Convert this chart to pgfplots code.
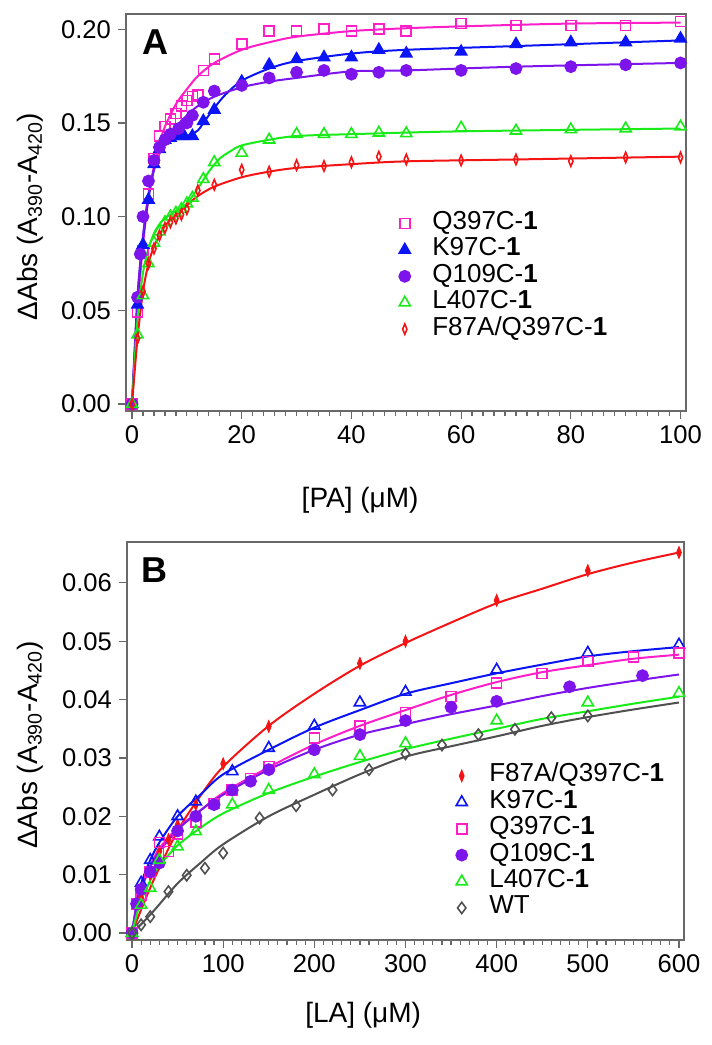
\documentclass[border=0pt]{standalone}
\usepackage{fontspec}
\setmainfont{Liberation Sans}
\usepackage{pgfplots}
\pgfplotsset{compat=1.18}
\definecolor{cMag}{RGB}{255,30,200}
\definecolor{cBlue}{RGB}{10,20,245}
\definecolor{cPur}{RGB}{125,20,235}
\definecolor{cGreen}{RGB}{25,235,25}
\definecolor{cRed}{RGB}{245,20,20}
\definecolor{cGray}{RGB}{80,80,80}
\definecolor{cAxis}{RGB}{105,105,105}
\pgfplotsset{
  myaxis/.style={
    scale only axis,
    axis line style={draw=cAxis, line width=0.6pt},
    tick align=outside, tick pos=left,
    major tick length=4pt, minor tick length=2.5pt,
    tick style={draw=cAxis, line width=0.6pt},
    minor tick style={draw=cAxis, line width=0.6pt},
    tick label style={font=\fontsize{12.8}{14}\selectfont},
    /pgf/number format/assume math mode=true,
    label style={font=\fontsize{14}{16}\selectfont},
    scaled y ticks=false,
    y tick label style={/pgf/number format/fixed, /pgf/number format/fixed zerofill, /pgf/number format/precision=2},
    ylabel={ΔAbs (A\textsubscript{390}-A\textsubscript{420})},
    legend cell align=left,
    legend style={draw=none, fill=none, inner sep=0pt, column sep=0pt, row sep=0.2pt,
      nodes={inner sep=0.5pt, text height=9pt, text depth=3pt, font=\fontsize{13}{14}\selectfont}},
  },
  fit/.style={line width=1pt, no marks, forget plot},
  pts/.style={only marks, mark options={line width=0.8pt},
    legend image code/.code={\path (0cm,0cm) (0.71cm,0cm); \draw[##1] plot coordinates {(0.25cm,0cm)};}},
}
\begin{document}
\begin{tikzpicture}
\useasboundingbox (0,0) rectangle (356pt,-522.5pt);
% ---------------- Panel A ----------------
\begin{axis}[myaxis,
  at={(63pt,-205.5pt)}, anchor=south west,
  width=280pt, height=198.5pt,
  xmin=-1.1, xmax=101, ymin=-0.0037, ymax=0.2081,
  xtick={0,20,40,60,80,100},
  minor xtick={2,4,...,18,22,24,...,38,42,44,...,58,62,64,...,78,82,84,...,98},
  ytick={0,0.05,0.1,0.15,0.2},
  xlabel={[PA] (μM)},
  xlabel style={at={(axis description cs:0.418,-0.224)}, anchor=center},
  ylabel style={at={(axis description cs:-0.171,0.49)}, anchor=center},
  legend style={at={(rel axis cs:0.471,0.506)}, anchor=north west},
]
% fits
\addplot[fit, cMag, smooth] coordinates {(0,0)(1,0.05)(2,0.085)(3,0.11)(4,0.127)(5,0.139)(6,0.148)(8,0.160)(10,0.168)(12,0.175)(15,0.182)(20,0.189)(25,0.193)(30,0.196)(40,0.199)(50,0.2005)(60,0.2015)(80,0.203)(100,0.2035)};
\addplot[fit, cBlue, smooth] coordinates {(0,0)(1,0.055)(2,0.088)(3,0.11)(4,0.125)(5,0.134)(6,0.139)(8,0.142)(10,0.143)(12,0.146)(13,0.150)(15,0.158)(17,0.165)(20,0.1725)(25,0.179)(30,0.183)(40,0.187)(50,0.189)(70,0.191)(100,0.194)};
\addplot[fit, cPur, smooth] coordinates {(0,0)(1,0.058)(2,0.09)(3,0.112)(4,0.125)(5,0.134)(6,0.14)(8,0.148)(10,0.154)(12,0.159)(15,0.164)(20,0.169)(25,0.172)(30,0.174)(40,0.1775)(50,0.178)(70,0.180)(100,0.182)};
\addplot[fit, cGreen, smooth] coordinates {(0,0)(1,0.045)(2,0.07)(3,0.083)(4,0.091)(5,0.096)(6,0.099)(8,0.103)(10,0.107)(12,0.115)(14,0.124)(16,0.131)(18,0.135)(20,0.138)(25,0.141)(30,0.143)(40,0.144)(60,0.1455)(100,0.147)};
\addplot[fit, cRed, smooth] coordinates {(0,0)(1,0.035)(2,0.06)(3,0.075)(4,0.084)(5,0.090)(6,0.095)(8,0.101)(10,0.106)(12,0.111)(15,0.116)(20,0.121)(25,0.124)(30,0.126)(40,0.128)(50,0.1295)(70,0.1305)(100,0.132)};
% data
\addplot[pts, mark=square, cMag, mark size=2.5pt] coordinates {(0,0)(1,0.049)(2,0.082)(3,0.112)(4,0.131)(5,0.143)(6,0.148)(7,0.152)(8,0.155)(9,0.159)(10,0.162)(11,0.164)(12,0.165)(13,0.178)(15,0.184)(20,0.192)(25,0.199)(30,0.199)(35,0.200)(40,0.199)(45,0.200)(50,0.199)(60,0.203)(70,0.202)(80,0.202)(90,0.202)(100,0.204)};
\addlegendentry{Q397C-\textbf{1}}
\addplot[pts, mark=triangle*, cBlue, mark size=3.2pt] coordinates {(0,0)(1,0.053)(2,0.085)(3,0.109)(4,0.128)(5,0.136)(6,0.141)(7,0.142)(8.5,0.143)(9.5,0.143)(11,0.143)(13,0.151)(15,0.157)(20,0.172)(25,0.181)(30,0.184)(35,0.185)(40,0.185)(45,0.189)(50,0.187)(60,0.188)(70,0.192)(80,0.193)(90,0.193)(100,0.195)};
\addlegendentry{K97C-\textbf{1}}
\addplot[pts, mark=*, cPur, mark size=2.8pt] coordinates {(0,0)(1,0.057)(1.5,0.080)(2,0.100)(3,0.119)(4,0.130)(5,0.137)(6,0.141)(7,0.144)(8.5,0.147)(10,0.150)(11,0.154)(13,0.161)(15,0.167)(20,0.170)(25,0.174)(30,0.177)(35,0.178)(40,0.176)(45,0.177)(50,0.178)(60,0.178)(70,0.179)(80,0.180)(90,0.181)(100,0.182)};
\addlegendentry{Q109C-\textbf{1}}
\addplot[pts, mark=triangle, cGreen, mark size=3.2pt] coordinates {(0,0)(1,0.037)(2,0.058)(3,0.075)(4,0.086)(5,0.092)(6,0.097)(7,0.100)(8,0.102)(9,0.104)(10,0.107)(11,0.110)(13,0.120)(15,0.129)(20,0.134)(25,0.141)(30,0.144)(35,0.144)(40,0.144)(45,0.1447)(50,0.1444)(60,0.1474)(70,0.1458)(80,0.1465)(90,0.147)(100,0.148)};
\addlegendentry{L407C-\textbf{1}}
\addplot[pts, mark=diamond, cRed, mark size=2.6pt, mark options={xscale=0.55, line width=0.8pt}] coordinates {(0,0)(1,0.035)(2,0.060)(3,0.075)(4,0.083)(5,0.090)(6,0.094)(7,0.097)(8,0.099)(9,0.101)(10,0.104)(12,0.114)(15,0.117)(20,0.125)(25,0.124)(30,0.1275)(35,0.127)(40,0.129)(45,0.132)(50,0.1305)(60,0.130)(70,0.1305)(80,0.1296)(90,0.1316)(100,0.1316)};
\addlegendentry{F87A/Q397C-\textbf{1}}
\node[font=\bfseries\fontsize{18}{20}\selectfont] at (rel axis cs:0.052,0.929) {A};
\end{axis}
% ---------------- Panel B ----------------
\begin{axis}[myaxis,
  at={(63.5pt,-470pt)}, anchor=south west,
  width=278.5pt, height=199pt,
  xmin=-5.5, xmax=605.5, ymin=-0.0012, ymax=0.067,
  xtick={0,100,200,300,400,500,600},
  minor xtick={10,20,...,90,110,120,...,190,210,220,...,290,310,320,...,390,410,420,...,490,510,520,...,590},
  ytick={0,0.01,0.02,0.03,0.04,0.05,0.06},
  xlabel={[LA] (μM)},
  xlabel style={at={(axis description cs:0.424,-0.188)}, anchor=center},
  ylabel style={at={(axis description cs:-0.174,0.49)}, anchor=center},
  legend style={at={(rel axis cs:0.574,0.446)}, anchor=north west},
]
\addplot[fit, cRed, smooth] coordinates {(0,0)(10,0.004)(25,0.0095)(50,0.0175)(75,0.0235)(100,0.0285)(150,0.0355)(200,0.041)(250,0.0458)(300,0.0497)(350,0.0532)(400,0.0565)(450,0.059)(500,0.0615)(550,0.0635)(600,0.0652)};
\addplot[fit, cBlue, smooth] coordinates {(0,0)(5,0.005)(10,0.0085)(20,0.0125)(30,0.0155)(50,0.020)(75,0.0237)(100,0.0272)(150,0.0314)(200,0.0352)(250,0.0382)(300,0.041)(350,0.0428)(400,0.0445)(450,0.046)(500,0.0474)(550,0.0483)(600,0.049)};
\addplot[fit, cMag, smooth] coordinates {(0,0)(5,0.0045)(10,0.0075)(20,0.0115)(30,0.0145)(50,0.018)(75,0.021)(100,0.024)(150,0.0284)(200,0.0323)(250,0.0355)(300,0.0382)(350,0.0408)(400,0.043)(450,0.0447)(500,0.0459)(550,0.047)(600,0.0477)};
\addplot[fit, cPur, smooth] coordinates {(0,0)(5,0.0045)(10,0.0075)(20,0.0113)(30,0.014)(50,0.0177)(75,0.021)(100,0.0237)(150,0.028)(200,0.0314)(250,0.034)(300,0.0358)(350,0.0375)(400,0.039)(450,0.0406)(500,0.042)(550,0.0432)(600,0.0443)};
\addplot[fit, cGreen, smooth] coordinates {(0,0)(5,0.003)(10,0.0055)(20,0.009)(30,0.0115)(50,0.015)(75,0.018)(100,0.0205)(150,0.024)(200,0.0268)(250,0.0293)(300,0.0315)(350,0.0333)(400,0.035)(450,0.0367)(500,0.038)(550,0.0393)(600,0.0405)};
\addplot[fit, cGray, smooth] coordinates {(0,0)(10,0.0015)(25,0.004)(50,0.0085)(75,0.012)(100,0.0152)(150,0.020)(200,0.0237)(250,0.0272)(300,0.0302)(350,0.032)(400,0.0337)(450,0.0355)(500,0.037)(550,0.0383)(600,0.0395)};
% data
\addplot[pts, mark=diamond*, cRed, mark size=3pt, mark options={xscale=0.55}] coordinates {(0,0)(10,0.006)(20,0.010)(30,0.014)(40,0.016)(50,0.0185)(70,0.022)(100,0.029)(150,0.0354)(250,0.0462)(300,0.050)(400,0.057)(500,0.0621)(600,0.0652)};
\addlegendentry{F87A/Q397C-\textbf{1}}
\addplot[pts, mark=triangle, cBlue, mark size=3.2pt] coordinates {(0,0)(10,0.0086)(20,0.0125)(30,0.0165)(50,0.020)(70,0.0225)(110,0.0277)(150,0.0317)(200,0.0355)(250,0.0395)(300,0.0413)(400,0.0451)(500,0.048)(600,0.0494)};
\addlegendentry{K97C-\textbf{1}}
\addplot[pts, mark=square, cMag, mark size=2.5pt] coordinates {(0,0)(5,0.005)(10,0.0065)(20,0.0105)(30,0.0155)(40,0.014)(50,0.017)(70,0.019)(90,0.0222)(110,0.0245)(130,0.0265)(150,0.0285)(200,0.0334)(250,0.0355)(300,0.0378)(350,0.0405)(400,0.0428)(450,0.0445)(500,0.0465)(550,0.0473)(600,0.048)};
\addlegendentry{Q397C-\textbf{1}}
\addplot[pts, mark=*, cPur, mark size=2.8pt] coordinates {(0,0)(5,0.005)(10,0.0075)(20,0.0105)(30,0.012)(50,0.0175)(70,0.020)(90,0.022)(110,0.0245)(130,0.026)(150,0.028)(200,0.0314)(250,0.034)(300,0.0364)(350,0.0387)(400,0.0397)(480,0.0422)(560,0.0441)};
\addlegendentry{Q109C-\textbf{1}}
\addplot[pts, mark=triangle, cGreen, mark size=3.2pt] coordinates {(0,0)(10,0.0048)(20,0.0077)(30,0.0125)(50,0.0148)(70,0.0174)(110,0.022)(150,0.0245)(200,0.0272)(250,0.0303)(300,0.0325)(400,0.0364)(500,0.0395)(600,0.0411)};
\addlegendentry{L407C-\textbf{1}}
\addplot[pts, mark=diamond, cGray, mark size=2.8pt] coordinates {(0,0)(10,0.0014)(20,0.0028)(40,0.0071)(60,0.0099)(80,0.0111)(100,0.0137)(140,0.0197)(180,0.0218)(220,0.0245)(260,0.028)(300,0.0307)(340,0.0322)(380,0.034)(420,0.0349)(460,0.0369)(500,0.0372)};
\addlegendentry{WT}
\node[font=\bfseries\fontsize{18}{20}\selectfont] at (rel axis cs:0.050,0.93) {B};
\end{axis}
\end{tikzpicture}
\end{document}
